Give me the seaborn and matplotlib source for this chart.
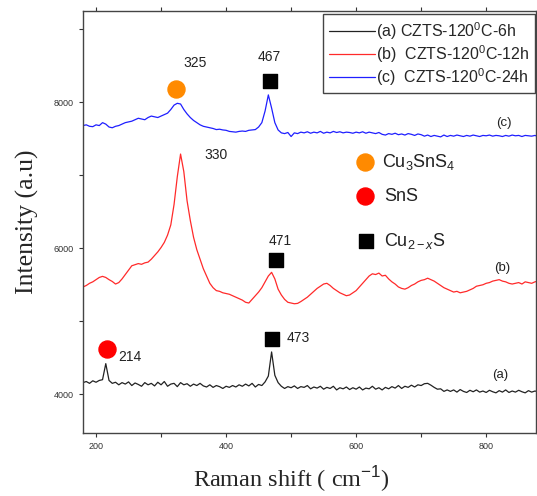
import numpy as np
import pandas as pd
import matplotlib
matplotlib.use("Agg")
import matplotlib.pyplot as plt
import seaborn as sns
from matplotlib.ticker import MultipleLocator

# Raman shift grid (cm-1), one point every 5 cm-1
shift = np.arange(180, 881, 5)

# (a) CZTS-120C-6h
int_a = [4160, 4175, 4150, 4185, 4165, 4190, 4200, 4420, 4190, 4150,
         4165, 4130, 4160, 4140, 4170, 4120, 4155, 4135, 4110, 4160,
         4130, 4150, 4115, 4165, 4130, 4175, 4110, 4140, 4150, 4105,
         4160, 4130, 4145, 4110, 4140, 4120, 4150, 4115, 4100, 4130,
         4095, 4120, 4105, 4080, 4110, 4095, 4120, 4100, 4130, 4110,
         4140, 4115, 4150, 4100, 4135, 4120, 4170, 4250, 4580, 4260,
         4160, 4110, 4080, 4105, 4090, 4115, 4080, 4105, 4095, 4120,
         4075, 4100, 4085, 4110, 4070, 4095, 4080, 4110, 4060, 4090,
         4075, 4100, 4065, 4090, 4070, 4100, 4060, 4085, 4075, 4110,
         4070, 4090, 4060, 4095, 4075, 4105, 4085, 4120, 4080, 4110,
         4095, 4125, 4100, 4130, 4120, 4145, 4150, 4125, 4095, 4070,
         4075, 4040, 4060, 4040, 4060, 4030, 4065, 4040, 4025, 4055,
         4035, 4060, 4030, 4045, 4025, 4055, 4035, 4020, 4050, 4030,
         4060, 4025, 4045, 4030, 4055, 4035, 4020, 4050, 4030, 4045,
         4035]

# (b) CZTS-120C-12h
int_b = [5470, 5490, 5520, 5540, 5570, 5600, 5615, 5600, 5570, 5545,
         5510, 5530, 5580, 5640, 5700, 5760, 5775, 5790, 5780, 5800,
         5810, 5850, 5900, 5950, 6010, 6080, 6180, 6320, 6600, 6980,
         7290, 7050, 6650, 6380, 6150, 5980, 5850, 5720, 5620, 5520,
         5460, 5420, 5410, 5390, 5380, 5370, 5350, 5330, 5310, 5290,
         5260, 5250, 5300, 5350, 5400, 5460, 5540, 5620, 5670, 5580,
         5440, 5360, 5300, 5260, 5250, 5240, 5245, 5270, 5300, 5330,
         5370, 5410, 5450, 5480, 5510, 5520, 5490, 5450, 5420, 5390,
         5370, 5350, 5360, 5390, 5420, 5470, 5520, 5570, 5620, 5650,
         5640, 5660, 5620, 5630, 5580, 5540, 5510, 5470, 5450, 5440,
         5460, 5490, 5510, 5540, 5560, 5570, 5590, 5570, 5550, 5520,
         5490, 5460, 5440, 5420, 5400, 5410, 5390, 5400, 5410, 5430,
         5450, 5480, 5490, 5500, 5520, 5530, 5550, 5560, 5570, 5550,
         5540, 5520, 5510, 5520, 5530, 5510, 5540, 5530, 5520, 5540,
         5550]

# (c) CZTS-120C-24h
int_c = [7680, 7690, 7670, 7665, 7690, 7680, 7720, 7700, 7660, 7650,
         7670, 7680, 7700, 7720, 7730, 7740, 7760, 7780, 7770, 7760,
         7790, 7810, 7800, 7790, 7810, 7830, 7850, 7900, 7960, 7985,
         7975, 7900, 7840, 7790, 7750, 7720, 7690, 7670, 7660, 7650,
         7640, 7625, 7630, 7620, 7615, 7600, 7595, 7590, 7600, 7605,
         7600, 7615, 7620, 7625, 7660, 7720, 7880, 8100, 7920, 7720,
         7620, 7580, 7570, 7585, 7530, 7580, 7570, 7590, 7580, 7595,
         7575, 7590, 7580, 7600, 7575, 7590, 7580, 7600, 7585, 7595,
         7580, 7590, 7585, 7575, 7590, 7580, 7595, 7575, 7590, 7580,
         7570, 7585, 7560, 7550, 7570, 7560, 7575, 7555, 7565, 7550,
         7570, 7560, 7545, 7565, 7555, 7535, 7550, 7530, 7545, 7535,
         7525, 7550, 7530, 7545, 7535, 7550, 7540, 7530, 7545, 7535,
         7550, 7540, 7530, 7545, 7540, 7550, 7535, 7545, 7540, 7530,
         7545, 7535, 7550, 7540, 7545, 7530, 7545, 7540, 7535, 7545,
         7530]

labels = ["(a) CZTS-120$^{0}$C-6h", "(b)  CZTS-120$^{0}$C-12h", "(c)  CZTS-120$^{0}$C-24h"]
colors = ["#222222", "#ff2a2a", "#1f1fff"]

# phase markers drawn on the spectra (x, y)
cts_x, cts_y = [323], [8180]          # Cu3SnS4
sns_x, sns_y = [217], [4615]          # SnS
cus_x = [468, 477, 470]               # Cu2-xS
cus_y = [8290, 5835, 4755]

# peak labels
peak_text = ["325", "467", "330", "471", "214", "473"]
peak_x = [352, 466, 385, 483, 252, 511]
peak_y = [8540, 8620, 7275, 6100, 4505, 4770]

# curve labels
curve_text = ["(c)", "(b)", "(a)"]
curve_x = [827, 824, 822]
curve_y = [7710, 5725, 4260]

sns.set_style("ticks")
plt.rcParams['font.family'] = ['Liberation Sans', 'DejaVu Sans']
plt.rcParams['mathtext.fontset'] = 'custom'
plt.rcParams['mathtext.rm'] = 'Liberation Sans'
plt.rcParams['mathtext.it'] = 'Liberation Sans:italic'

fig = plt.figure(figsize=(5.37, 4.96), dpi=100)
ax = fig.add_axes([0.1546, 0.127, 0.844, 0.851])

df = pd.DataFrame({'shift': shift, 'a': int_a, 'b': int_b, 'c': int_c})
for col, lab, c in zip(['a', 'b', 'c'], labels, colors):
    sns.lineplot(data=df, x='shift', y=col, color=c, lw=0.9, label=lab, ax=ax)

# phase markers
ax.scatter(cts_x, cts_y, s=150, color='#ff8a00', marker='o', zorder=5)
ax.scatter(sns_x, sns_y, s=150, color='#ff0000', marker='o', zorder=5)
ax.scatter(cus_x, cus_y, s=95, color='black', marker='s', zorder=5)

for t, x, y in zip(peak_text, peak_x, peak_y):
    ax.text(x, y, t, fontsize=10, ha='center', va='center', color='#222222')
for t, x, y in zip(curve_text, curve_x, curve_y):
    ax.text(x, y, t, fontsize=9.5, ha='center', va='center', color='#222222')

# phase key inside the plot
ax.scatter([614], [7180], s=150, color='#ff8a00', marker='o')
ax.scatter([614], [6715], s=150, color='#ff0000', marker='o')
ax.scatter([615], [6095], s=95, color='black', marker='s')
ax.text(640, 7180, "Cu$_3$SnS$_4$", fontsize=13, va='center', color='#222222')
ax.text(643, 6715, "SnS", fontsize=13, va='center', color='#222222')
ax.text(643, 6095, "Cu$_{2-x}$S", fontsize=13, va='center', color='#222222')

ax.set_xlim(180, 877)
ax.set_ylim(3470, 9250)
ax.xaxis.set_major_locator(MultipleLocator(200))
ax.xaxis.set_minor_locator(MultipleLocator(100))
ax.yaxis.set_major_locator(MultipleLocator(2000))
ax.yaxis.set_minor_locator(MultipleLocator(1000))
ax.tick_params(axis='both', which='both', direction='out', length=3, width=0.8,
               labelsize=6.5, colors='#333333')
ax.tick_params(axis='x', which='both', top=True, labeltop=False)
for side in ['top', 'right', 'left', 'bottom']:
    ax.spines[side].set_color('#444444')
    ax.spines[side].set_linewidth(1.0)

ax.set_xlabel("Raman shift ( cm$^{-1}$)", fontsize=17.5, family='Liberation Serif')
ax.set_ylabel("Intensity (a.u)", fontsize=18.5, family='Liberation Serif')
ax.xaxis.set_label_coords(0.46, -0.074)
ax.yaxis.set_label_coords(-0.098, 0.5)

leg = ax.legend(loc='upper right', bbox_to_anchor=(0.998, 0.992), borderaxespad=0,
                fontsize=11.5, handlelength=2.9, handletextpad=0.05, labelspacing=0.08,
                borderpad=0.35, fancybox=False, framealpha=1, edgecolor='#444444')
leg.get_frame().set_linewidth(1.0)

fig.savefig("out.png", dpi=100)
